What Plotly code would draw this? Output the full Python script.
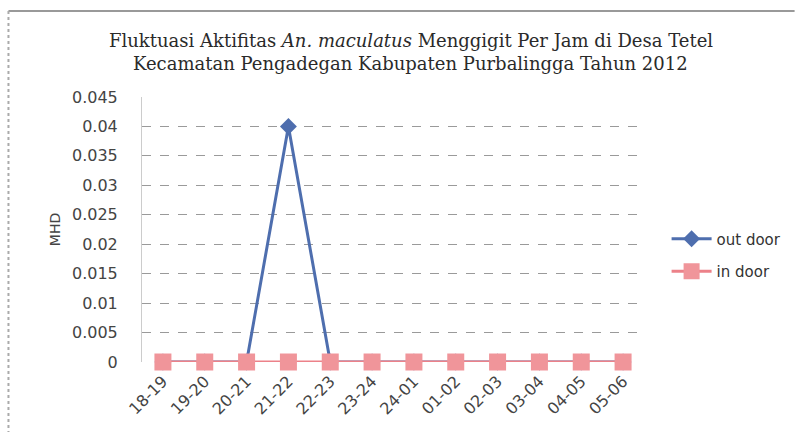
import plotly.graph_objects as go

categories = ["18-19", "19-20", "20-21", "21-22", "22-23", "23-24",
              "24-01", "01-02", "02-03", "03-04", "04-05", "05-06"]
outdoor = [0, 0, 0, 0.04, 0, 0, 0, 0, 0, 0, 0, 0]
indoor = [0] * 12
y_ticks = [0, 0.005, 0.01, 0.015, 0.02, 0.025, 0.03, 0.035, 0.04, 0.045]
y_tick_labels = ["0", "0.005", "0.01", "0.015", "0.02", "0.025", "0.03", "0.035", "0.04", "0.045"]
title_line1 = "Fluktuasi Aktifitas <i>An. maculatus</i> Menggigit Per Jam di Desa Tetel"
title_line2 = "Kecamatan Pengadegan Kabupaten Purbalingga Tahun 2012"

fig = go.Figure()
fig.add_trace(go.Scatter(
    x=categories, y=outdoor, name="out door", mode="lines+markers",
    legendgroup="a", cliponaxis=False,
    line=dict(color="#4E6EAE", width=3),
    marker=dict(symbol="diamond", size=13, color="#4E6EAE"),
))
fig.add_trace(go.Scatter(
    x=categories, y=indoor, name="in door", mode="lines+markers",
    legendgroup="b", cliponaxis=False,
    line=dict(color="#EC8189", width=3),
    marker=dict(symbol="square", size=17, color="#F0959A"),
))

tfont = dict(family="DejaVu Serif, serif", size=18, color="#2a2a2a")
fig.add_annotation(text=title_line1, xref="paper", yref="paper", x=0.535, y=(362 - 40) / 265,
                   xanchor="center", yanchor="middle", showarrow=False, font=tfont)
fig.add_annotation(text=title_line2, xref="paper", yref="paper", x=0.535, y=(362 - 63) / 265,
                   xanchor="center", yanchor="middle", showarrow=False, font=tfont)

tickfont = dict(family="DejaVu Sans, sans-serif", size=16, color="#444444")
fig.update_layout(
    width=811, height=432,
    paper_bgcolor="white", plot_bgcolor="white",
    margin=dict(l=142, r=167, t=97, b=70),
    xaxis=dict(
        type="category", range=[-0.5, 11.5],
        tickangle=-45, showgrid=False, showline=False, zeroline=False,
        ticks="", ticklabelstandoff=6, tickfont=tickfont,
    ),
    yaxis=dict(
        range=[0, 0.045], tickvals=y_ticks, ticktext=y_tick_labels,
        showgrid=True, gridcolor="#9a9a9a", griddash="dash", gridwidth=1,
        zeroline=False, showline=True, linecolor="#cccccc", linewidth=1,
        ticks="", ticklabelstandoff=20, tickfont=tickfont,
        title=dict(text="MHD", standoff=8,
                   font=dict(family="DejaVu Sans, sans-serif", size=14, color="#444444")),
    ),
    legend=dict(
        x=1.045, y=0.404, xanchor="left", yanchor="middle",
        font=dict(family="DejaVu Sans, sans-serif", size=15, color="#333333"),
        bgcolor="rgba(0,0,0,0)", tracegroupgap=10, itemwidth=40,
    ),
    showlegend=True,
)

fig.add_shape(type="line", xref="paper", yref="paper",
              x0=-0.266, x1=1.3, y0=1.325, y1=1.325,
              line=dict(color="#999999", width=2))
fig.add_shape(type="line", xref="paper", yref="paper",
              x0=-0.266, x1=-0.266, y0=1.325, y1=-0.27,
              line=dict(color="#aaaaaa", width=2, dash="dot"))

fig.write_html("out.html", config={"displayModeBar": False},
               post_script="document.body.style.margin='0';document.body.style.overflow='hidden';")
